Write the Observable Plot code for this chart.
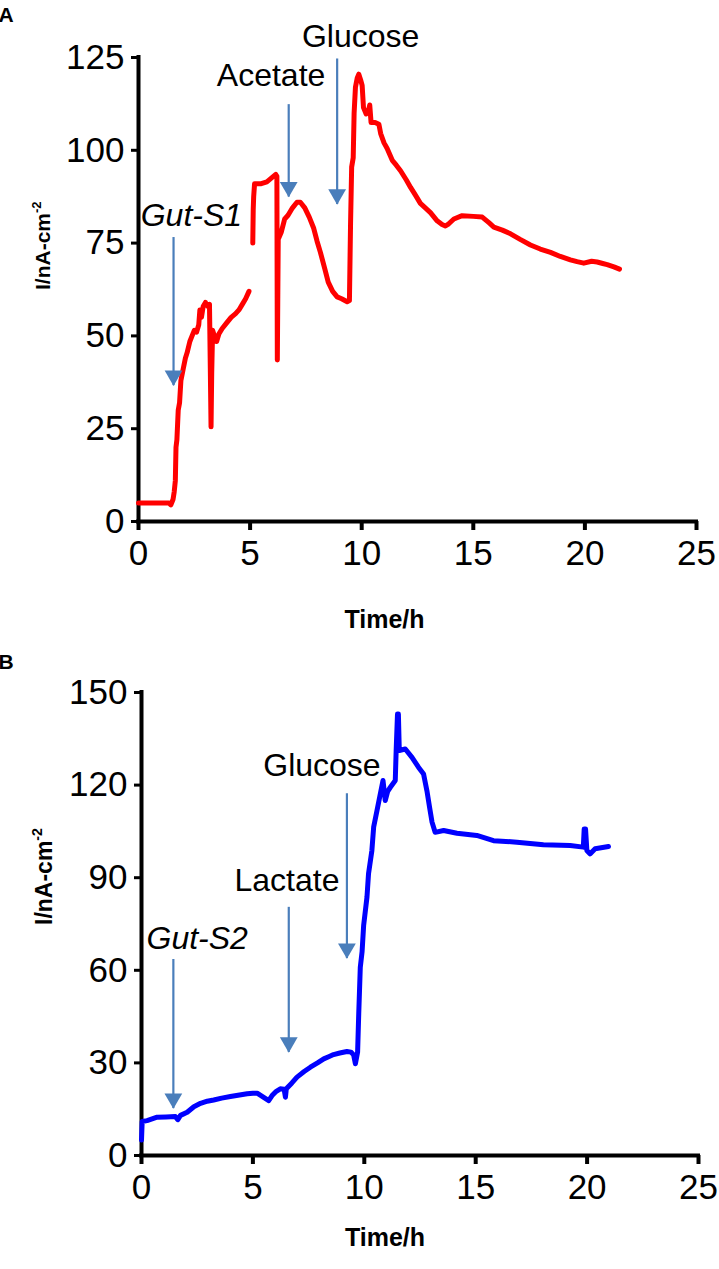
<!DOCTYPE html>
<html><head><meta charset="utf-8">
<script src="https://cdn.jsdelivr.net/npm/d3@7"></script>
<script src="https://cdn.jsdelivr.net/npm/@observablehq/plot@0.6"></script>
<style>
html,body{margin:0;padding:0;background:#fff;}
#chart svg{display:block;}
</style></head><body><div id="chart"></div>
<script>
// ---------- Panel A data (Gut-S1, red) ----------
const timeA = [0,1.36,1.45,1.55,1.6,1.65,1.68,1.72,1.78,1.84,1.9,2.0,2.1,2.18,2.3,2.4,2.5,2.6,2.7,2.75,2.82,2.9,3.0,3.1,3.18,3.22,3.25,3.28,3.32,3.4,3.5,3.6,3.75,3.95,4.15,4.35,4.5,4.65,4.8,4.95,
  5.0,
  5.12,5.14,5.16,5.2,5.5,5.75,5.95,6.15,6.2,6.22,6.26,6.4,6.55,6.7,6.9,7.1,7.25,7.45,7.65,7.85,8.0,8.15,8.35,8.5,8.7,8.9,9.1,9.35,9.45,9.5,9.55,9.62,9.66,9.72,9.8,9.87,9.95,10.02,10.08,10.2,10.3,10.36,10.42,10.6,10.77,10.85,11.0,11.14,11.37,11.55,11.74,12.0,12.19,12.4,12.63,12.85,13.08,13.38,13.6,13.75,13.9,14.13,14.5,15.0,15.4,15.7,15.92,16.3,16.67,17.1,17.56,18.0,18.46,18.9,19.35,19.65,19.95,20.3,20.55,20.8,21.0,21.3,21.55];
const currentA = [5,5,4.5,6,8,11,20,22,30,32,38,41,44,45.5,48.5,50,51.5,51,53,57,55,58,59,58,58.5,40,25.5,40,51.5,50,48.5,50.5,52,53.5,55,56,57,58.5,60,62,
  null,
  75,84,87.5,91,91,91.5,92.5,93.5,93,43.5,76,78,81.5,82.5,84.5,86,86,84.5,82,79,75.5,72.5,68,64.5,62,60.5,60,59.2,59.5,80,95.5,98,110,117,119.5,120.5,119,117.5,111.5,109.8,110.5,112.2,107.5,107.5,107,104.5,102,100.5,97.3,96,94.5,92,90,88,85.7,84.5,83.2,81,80,79.6,80.2,81.5,82.4,82.2,82,80.5,79.3,78.5,77.5,76,74.5,73.4,72.5,71.4,70.5,70,69.6,70.1,69.9,69.5,69.2,68.6,68];
const xTicks = [0,5,10,15,20,25];
const yTicksA = [0,25,50,75,100,125];
const arrowNamesA = ["Gut-S1","Acetate","Glucose"];
const arrowTimesA = [1.57,6.73,8.9];
const arrowTopsA = [76.5,112.3,124.6];
const arrowTipsA = [36.6,87.4,85.4];
const labelTimesA = [2.37,5.94,9.95];
const labelValuesA = [79.7,117.2,127.7];

// ---------- Panel B data (Gut-S2, blue) ----------
const timeB = [0,0.03,0.25,0.7,1.1,1.52,1.63,1.75,2.05,2.35,2.65,2.95,3.24,3.6,3.99,4.4,4.74,5.0,5.19,5.45,5.71,5.86,6.05,6.23,6.4,6.46,6.5,6.75,6.98,7.3,7.58,7.9,8.18,8.4,8.62,8.9,9.22,9.4,9.52,9.6,9.7,9.75,9.82,9.9,9.97,10.12,10.19,10.34,10.42,10.57,10.72,10.84,10.94,11.05,11.17,11.39,11.43,11.49,11.53,11.57,11.84,12.14,12.43,12.66,12.81,12.93,13.04,13.18,13.56,14.16,15.05,15.8,16.85,18.04,19.24,19.83,19.87,19.93,19.99,20.13,20.36,20.96];
const currentB = [5,11,11.3,12.4,12.5,12.6,11.6,13,14,15.8,16.9,17.6,18,18.6,19.1,19.6,20,20.2,20.2,19,17.8,19.4,20.8,21.6,21.5,18.9,21.6,23.5,25.4,27.2,28.6,30,31.3,32,32.7,33.2,33.7,33.5,32.6,29.7,33.5,45.9,61,66,74.5,83.7,91.3,98.8,106.4,111.8,117.2,121.5,115,118,119.3,121.5,131.2,143,143,131.2,131.7,129,125.8,123.6,118.2,112.8,108,104.7,105.3,104.4,103.7,102,101.5,100.7,100.4,99.9,105.8,105.8,98.8,97.7,99.4,100.1];
const yTicksB = [0,30,60,90,120,150];
const arrowNamesB = ["Gut-S2","Lactate","Glucose"];
const arrowTimesB = [1.43,6.61,9.22];
const arrowTopsB = [63.5,80.4,117.2];
const arrowTipsB = [15.2,33.4,63.8];
const labelTimesB = [2.5,6.53,8.1];
const labelValuesB = [67,85.8,123.1];

const FONT = "'Liberation Sans', Arial, Helvetica, sans-serif";
const ARROW = "#4a7ebb";

function panel(cfg) {
  const series = cfg.time.map((t, i) => ({t, v: cfg.current[i]}));
  const arrows = cfg.names.map((n, i) => ({
    name: n, x: cfg.arrowTimes[i], top: cfg.arrowTops[i], tip: cfg.arrowTips[i],
    lx: cfg.labelTimes[i], ly: cfg.labelValues[i]
  }));
  const svg = Plot.plot({
    width: 719,
    height: cfg.height,
    marginLeft: cfg.mL, marginRight: cfg.mR, marginTop: cfg.mT, marginBottom: cfg.mB,
    style: {fontFamily: FONT, overflow: "visible", background: "white", color: "black"},
    x: {domain: [0, 25]},
    y: {domain: cfg.yDomain},
    marks: [
      Plot.axisX({ticks: xTicks, tickSize: 9, tickPadding: 10, fontSize: 35, strokeWidth: 4, label: null}),
      Plot.axisY({ticks: cfg.yTicks, tickSize: 7, tickPadding: 7, fontSize: 35, strokeWidth: 3, label: null}),
      Plot.ruleY([0], {stroke: "black", strokeWidth: 4, strokeLinecap: "square"}),
      Plot.ruleX([0], {stroke: "black", strokeWidth: 4, strokeLinecap: "square"}),
      Plot.line(series, {x: "t", y: "v", stroke: cfg.color, strokeWidth: 5, strokeLinejoin: "round"}),
      Plot.ruleX(arrows, {x: "x", y1: "top", y2: "tip", stroke: ARROW, strokeWidth: 2.2}),
      Plot.dot(arrows, {x: "x", y: "tip", symbol: "triangle", rotate: 180, r: 6.6, fill: ARROW, stroke: "none", dy: -10}),
      Plot.text(arrows.slice(0, 1), {x: "lx", y: "ly", text: "name", fontSize: 32, fontStyle: "italic", lineAnchor: "bottom", textAnchor: "middle", fill: "black"}),
      Plot.text(arrows.slice(1), {x: "lx", y: "ly", text: "name", fontSize: 32, lineAnchor: "bottom", textAnchor: "middle", fill: "black"}),
      Plot.text(["Time/h"], {frameAnchor: "bottom", dy: cfg.timeDy, dx: cfg.timeDx, lineAnchor: "bottom", fontSize: 25, fontWeight: "bold", fill: "black"})
    ]
  });
  const s = d3.select(svg);
  // panel letter
  s.append("text").attr("x", 6).attr("y", cfg.letterY)
    .style("font-family", FONT).style("font-weight", "bold").style("font-size", "21px").attr("fill", "black")
    .text(cfg.letter);
  // y axis title with superscript
  const yl = s.append("text")
    .attr("transform", `translate(${cfg.ylX},${cfg.ylY}) rotate(-90)`)
    .style("font-family", FONT).style("font-weight", "bold").style("font-size", cfg.ylSize + "px").attr("fill", "black")
    .attr("text-anchor", "start");
  yl.append("tspan").text("I/nA-cm");
  yl.append("tspan").attr("dy", -cfg.ylSize * 0.45).style("font-size", (cfg.ylSize * 0.62) + "px").text("-2");
  return svg;
}

const chart = document.getElementById("chart");
chart.appendChild(panel({
  time: timeA, current: currentA, color: "#ff0000", yDomain: [0, 125], yTicks: yTicksA,
  names: arrowNamesA, arrowTimes: arrowTimesA, arrowTops: arrowTopsA, arrowTips: arrowTipsA,
  labelTimes: labelTimesA, labelValues: labelValuesA,
  height: 650, mL: 138, mR: 23, mT: 57, mB: 129,
  timeDy: 106, timeDx: -33, letter: "A", letterY: 22, ylX: 50, ylY: 290, ylSize: 21
}));
chart.appendChild(panel({
  time: timeB, current: currentB, color: "#0000ff", yDomain: [0, 150], yTicks: yTicksB,
  names: arrowNamesB, arrowTimes: arrowTimesB, arrowTops: arrowTopsB, arrowTips: arrowTipsB,
  labelTimes: labelTimesB, labelValues: labelValuesB,
  height: 619, mL: 141, mR: 21, mT: 42, mB: 114,
  timeDy: 90, timeDx: -35, letter: "B", letterY: 19, ylX: 52, ylY: 275, ylSize: 23
}));
</script></body></html>
